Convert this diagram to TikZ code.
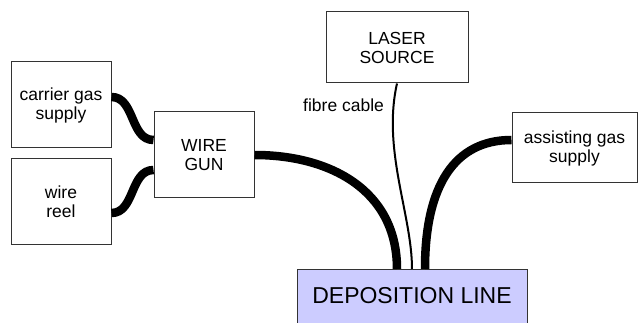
\documentclass[tikz,border=0pt]{standalone}
\usepackage{fontspec}
\setmainfont{Liberation Sans}
\usetikzlibrary{positioning}

\begin{document}
\begin{tikzpicture}[
    x=1pt, y=-1pt,
    every node/.style={font=\fontsize{17.5}{19}\selectfont, align=center},
    box/.style={rectangle, draw=black!80, line width=1pt, inner sep=2pt},
    depobox/.style={box, fill=blue!20},
    pipe/.style={line width=8.5pt},
    fibre/.style={line width=2pt},
]
\useasboundingbox (0,0) rectangle (638,323);

% Supplies on the left
\node[box, minimum width=100pt, minimum height=86pt] (carrier) at (61,105) {carrier gas\\supply};
\node[box, minimum width=100pt, minimum height=86pt] (reel) at (61,202) {wire\\reel};
\node[box, minimum width=100pt, minimum height=86pt] (gun) at (204,155) {WIRE\\GUN};

% Laser and assisting gas
\node[box, minimum width=142pt, minimum height=71pt] (laser) at (397,47.5) {LASER\\SOURCE};
\node[box, minimum width=125pt, minimum height=70pt] (assist) at (574.5,148) {assisting gas\\supply};

% Deposition line
\node[depobox, minimum width=230pt, minimum height=70pt, anchor=north] (depo) at (412,269) {};
\node[font=\fontsize{23}{26}\selectfont] (depotext) at (412,296) {DEPOSITION LINE};

% Cables
\draw[pipe] ([yshift=8pt]carrier.east) .. controls (135,97) and (130,140) .. ([yshift=15pt]gun.west);
\draw[pipe] ([yshift=-11pt]reel.east) .. controls (135,213) and (130,170) .. ([yshift=-15pt]gun.west);
\draw[pipe] (gun.east) .. controls (330,155) and (397,190) .. ([xshift=-15pt]depo.north);
\draw[fibre] (laser.south) .. controls (382,150) and (412,215) .. (depo.north);
\draw[pipe] ([yshift=8pt]assist.west) .. controls (455,140) and (425,185) .. ([xshift=13pt]depo.north);

\node[anchor=west, inner sep=0pt] (fibrelabel) at (303,105) {fibre cable};
\end{tikzpicture}
\end{document}
